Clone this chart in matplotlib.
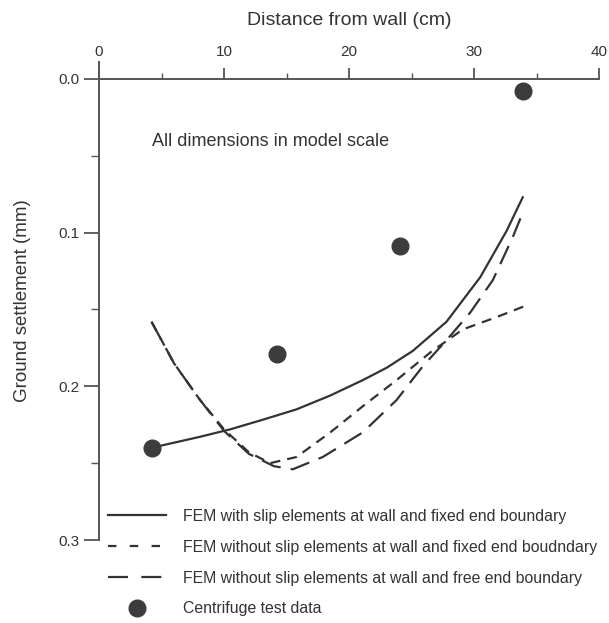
import matplotlib.pyplot as plt
from matplotlib.lines import Line2D

# data
test_x = [4.2, 14.2, 24.1, 33.9]
test_y = [0.240, 0.179, 0.109, 0.008]

slip_x = [4.2, 8, 10.5, 13, 15.8, 18.5, 21.1, 23, 25.1, 27.8, 30.5, 32.6, 33.9]
slip_y = [0.240, 0.233, 0.228, 0.222, 0.215, 0.206, 0.196, 0.188, 0.177,
          0.158, 0.129, 0.099, 0.077]

fixed_x = [4.2, 6, 8, 10, 12, 13.7, 15.8, 18.5, 21.1, 23.8, 26.5, 29.1, 31.8, 34.0]
fixed_y = [0.158, 0.185, 0.208, 0.228, 0.243, 0.250, 0.246, 0.230, 0.213,
           0.196, 0.178, 0.163, 0.155, 0.148]

free_x = [4.2, 6, 8, 10, 12, 14, 15.5, 17.9, 21.1, 23.8, 25.9, 27.8, 29.7,
          31.5, 33.1, 33.9]
free_y = [0.158, 0.185, 0.208, 0.229, 0.244, 0.252, 0.254, 0.246, 0.230,
          0.209, 0.187, 0.170, 0.152, 0.131, 0.103, 0.087]

labels = ["FEM with slip elements at wall and fixed end boundary",
          "FEM without slip elements at wall and fixed end boudndary",
          "FEM without slip elements at wall and free end boundary",
          "Centrifuge test data"]

plt.rcParams['font.family'] = ['Liberation Sans', 'DejaVu Sans']
ink = '#333333'
axc = '#555555'

fig = plt.figure(figsize=(6.09, 6.23), dpi=100)
ax = fig.add_axes([99 / 609, 1 - 540 / 623, 500 / 609, (540 - 62) / 623])

ax.plot(slip_x, slip_y, color=ink, lw=1.6)
ax.plot(fixed_x, fixed_y, color=ink, lw=1.6, dashes=(4.5, 3.2))
ax.plot(free_x, free_y, color=ink, lw=1.6, dashes=(9, 4.5))
ax.plot(test_x, test_y, 'o', color='#3c3c3c', ms=12, ls='none')

ax.set_xlim(0, 40)
ax.set_ylim(0.3, -0.011)

for s in ['right', 'bottom']:
    ax.spines[s].set_visible(False)
ax.spines['top'].set_position(('data', 0))
for s in ['top', 'left']:
    ax.spines[s].set_color(axc)
    ax.spines[s].set_linewidth(1.4)
ax.spines['left'].set_bounds(-0.011, 0.3)

ax.xaxis.tick_top()
ax.xaxis.set_label_position('top')
ax.set_xticks([0, 10, 20, 30, 40])
ax.set_xticks([5, 15, 25, 35], minor=True)
ax.set_yticks([0.0, 0.1, 0.2, 0.3])
ax.set_yticks([0.05, 0.15, 0.25], minor=True)
ax.set_yticklabels(['0.0', '0.1', '0.2', '0.3'])
ax.tick_params(axis='both', which='major', width=1.3, color=axc,
               labelsize=11, labelcolor=ink)
ax.tick_params(axis='y', which='major', length=11, pad=3)
ax.tick_params(axis='y', which='minor', length=6, width=1.0, color=axc)
ax.tick_params(axis='x', which='major', length=8, pad=6)
ax.tick_params(axis='x', which='minor', length=4, width=1.0, color=axc)

ax.set_xlabel('Distance from wall (cm)', fontsize=14, color=ink, labelpad=15)
ax.set_ylabel('Ground settlement (mm)', fontsize=13.5, color=ink, labelpad=20)

ax.text(4.2, 0.041, 'All dimensions in model scale', fontsize=13, color=ink,
        va='center', ha='left')

handles = [Line2D([], [], color=ink, lw=1.6),
           Line2D([], [], color=ink, lw=1.6, dashes=(3.8, 6)),
           Line2D([], [], color=ink, lw=1.6, dashes=(9, 6)),
           Line2D([], [], marker='o', color='#3c3c3c', ms=12, ls='none')]
leg = fig.legend(handles, labels, loc='upper left',
                 bbox_to_anchor=(108 / 609, 1 - 509 / 623), frameon=False,
                 fontsize=11.4, handlelength=3.65, handletextpad=1.1,
                 labelspacing=1.0, borderpad=0, borderaxespad=0)
for t in leg.get_texts():
    t.set_color(ink)

fig.savefig('out.png', dpi=100)
